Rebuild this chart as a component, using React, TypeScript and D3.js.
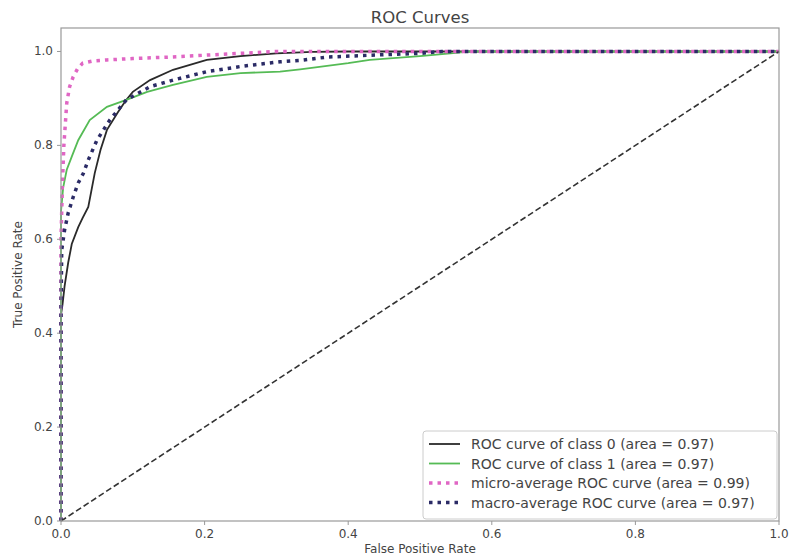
import React from "react";
import * as d3 from "d3";

// ROC curve points (fpr -> tpr)
const class0Fpr = [0, 0, 0.002, 0.005, 0.01, 0.015, 0.024, 0.03, 0.038, 0.047, 0.055, 0.064, 0.079, 0.09, 0.1, 0.124, 0.156, 0.203, 0.25, 0.3, 0.35, 0.4, 1.0];
const class0Tpr = [0, 0.44, 0.46, 0.5, 0.55, 0.59, 0.626, 0.645, 0.669, 0.741, 0.79, 0.833, 0.87, 0.895, 0.914, 0.939, 0.961, 0.982, 0.99, 0.996, 0.999, 1.0, 1.0];

const class1Fpr = [0, 0, 0.003, 0.008, 0.015, 0.024, 0.04, 0.064, 0.091, 0.12, 0.156, 0.203, 0.25, 0.305, 0.333, 0.4, 0.43, 0.5, 0.55, 0.57, 1.0];
const class1Tpr = [0, 0.66, 0.71, 0.748, 0.776, 0.811, 0.854, 0.882, 0.897, 0.914, 0.929, 0.946, 0.954, 0.957, 0.962, 0.975, 0.982, 0.99, 0.997, 1.0, 1.0];

const microFpr = [0, 0, 0.002, 0.004, 0.008, 0.012, 0.017, 0.023, 0.03, 0.045, 0.064, 0.1, 0.15, 0.2, 0.25, 0.3, 1.0];
const microTpr = [0, 0.6, 0.72, 0.8, 0.89, 0.925, 0.946, 0.963, 0.975, 0.98, 0.982, 0.985, 0.988, 0.992, 0.996, 1.0, 1.0];

const macroFpr = [0, 0, 0.001, 0.005, 0.01, 0.017, 0.024, 0.031, 0.038, 0.05, 0.068, 0.091, 0.124, 0.156, 0.203, 0.25, 0.305, 0.333, 0.37, 0.43, 0.5, 0.53, 1.0];
const macroTpr = [0, 0.45, 0.577, 0.62, 0.656, 0.69, 0.72, 0.74, 0.769, 0.811, 0.854, 0.897, 0.925, 0.939, 0.957, 0.968, 0.978, 0.981, 0.988, 0.992, 0.996, 1.0, 1.0];

const diagFpr = [0, 1];
const diagTpr = [0, 1];

const xTicks = [0, 0.2, 0.4, 0.6, 0.8, 1.0];
const yTicks = [0, 0.2, 0.4, 0.6, 0.8, 1.0];

const legendLabels = [
  "ROC curve of class 0 (area = 0.97)",
  "ROC curve of class 1 (area = 0.97)",
  "micro-average ROC curve (area = 0.99)",
  "macro-average ROC curve (area = 0.97)",
];

const W = 789;
const H = 556;
const left = 61, right = 779, top = 28, bottom = 521;
const font = "DejaVu Sans, sans-serif";
const textColor = "#444";

export default function App() {
  const x = d3.scaleLinear().domain([0, 1]).range([left, right]);
  const y = d3.scaleLinear().domain([0, 1.05]).range([bottom, top]);

  const line = d3.line<[number, number]>().x((d) => x(d[0])).y((d) => y(d[1]));
  const pts = (fx: number[], ty: number[]) => fx.map((f, i) => [f, ty[i]] as [number, number]);

  const series = [
    { fpr: class0Fpr, tpr: class0Tpr, color: "#2a2a2a", width: 1.8, dash: "" },
    { fpr: class1Fpr, tpr: class1Tpr, color: "#55bb55", width: 1.8, dash: "" },
    { fpr: microFpr, tpr: microTpr, color: "#e066c4", width: 3.5, dash: "3.5 5" },
    { fpr: macroFpr, tpr: macroTpr, color: "#2b2b66", width: 3.5, dash: "3.5 5" },
  ];

  const legendX = 423, legendY = 431, legendW = 354, legendH = 88;
  const rowY = (i: number) => legendY + 13 + i * 19.5;

  return (
    <svg width={W} height={H} style={{ position: "absolute", left: 0, top: 0, background: "#fff" }}>
      <rect x={0} y={0} width={W} height={H} fill="#fff" />
      <text x={(left + right) / 2} y={23} textAnchor="middle" fontFamily={font} fontSize={16.5} fill={textColor}>
        ROC Curves
      </text>

      {series.map((s, i) => (
        <path
          key={i}
          d={line(pts(s.fpr, s.tpr)) || ""}
          fill="none"
          stroke={s.color}
          strokeWidth={s.width}
          strokeDasharray={s.dash || undefined}
        />
      ))}
      <path d={line(pts(diagFpr, diagTpr)) || ""} fill="none" stroke="#333" strokeWidth={1.6} strokeDasharray="6 3" />

      {/* axes frame */}
      <rect x={left} y={top} width={right - left} height={bottom - top} fill="none" stroke="#999" strokeWidth={1.2} />

      {xTicks.map((t) => (
        <g key={"x" + t}>
          <line x1={x(t)} x2={x(t)} y1={bottom} y2={bottom + 4} stroke="#999" />
          <text x={x(t)} y={538} textAnchor="middle" fontFamily={font} fontSize={12} fill={textColor}>
            {t.toFixed(1)}
          </text>
        </g>
      ))}
      {yTicks.map((t) => (
        <g key={"y" + t}>
          <line x1={left - 4} x2={left} y1={y(t)} y2={y(t)} stroke="#999" />
          <text x={53} y={y(t) + 4} textAnchor="end" fontFamily={font} fontSize={12} fill={textColor}>
            {t.toFixed(1)}
          </text>
        </g>
      ))}

      <text x={(left + right) / 2} y={553} textAnchor="middle" fontFamily={font} fontSize={12} fill={textColor}>
        False Positive Rate
      </text>
      <text
        transform={`translate(22,${(top + bottom) / 2}) rotate(-90)`}
        textAnchor="middle"
        fontFamily={font}
        fontSize={12}
        fill={textColor}
      >
        True Positive Rate
      </text>

      {/* legend */}
      <rect x={legendX} y={legendY} width={legendW} height={legendH} rx={3} fill="#fff" fillOpacity={0.85} stroke="#ccc" />
      {series.map((s, i) => (
        <g key={"l" + i}>
          <line
            x1={legendX + 6}
            x2={legendX + 37}
            y1={rowY(i)}
            y2={rowY(i)}
            stroke={s.color}
            strokeWidth={s.width}
            strokeDasharray={s.dash || undefined}
          />
          <text x={legendX + 48} y={rowY(i) + 5} fontFamily={font} fontSize={14} fill={textColor}>
            {legendLabels[i]}
          </text>
        </g>
      ))}
    </svg>
  );
}
